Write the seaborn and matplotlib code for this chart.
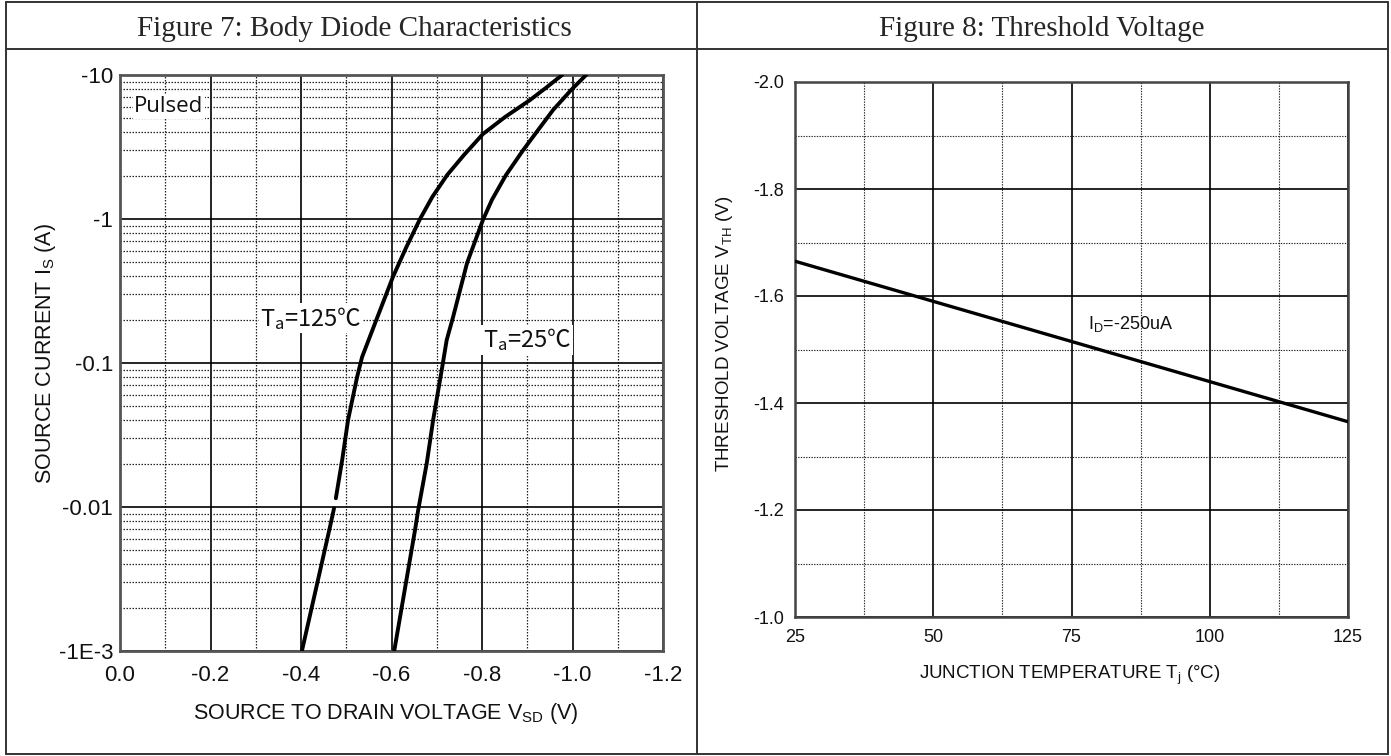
import matplotlib
matplotlib.use("Agg")
import matplotlib.pyplot as plt
import matplotlib.ticker as mticker
from matplotlib.lines import Line2D
import pandas as pd
import seaborn as sns

# Figure 7: body diode curves, |V_SD| (V) vs |I_S| (A)
# Ta=125C (drawn in two pieces, the original has a small break near 0.01 A)
vsd_125_low = [0.402, 0.464, 0.473]
is_125_low = [0.001, 0.00726, 0.0098]
vsd_125_high = [0.477, 0.491, 0.504, 0.524, 0.535, 0.568, 0.603, 0.632, 0.663, 0.690,
                0.723, 0.760, 0.802, 0.851, 0.906, 0.941, 0.977]
is_125_high = [0.0115, 0.0212, 0.0402, 0.080, 0.110, 0.205, 0.395, 0.63, 1.0, 1.42,
               2.02, 2.78, 3.89, 5.11, 6.7, 8.13, 10.0]
# Ta=25C
vsd_25 = [0.606, 0.652, 0.659, 0.678, 0.692, 0.711, 0.722, 0.736, 0.767, 0.802,
          0.822, 0.853, 0.891, 0.924, 0.957, 0.997, 1.030]
is_25 = [0.001, 0.00692, 0.00953, 0.0202, 0.0402, 0.0894, 0.1445, 0.208, 0.495, 0.984,
         1.36, 2.02, 3.01, 4.15, 5.71, 7.87, 10.0]
is_ticks = [1e-3, 1e-2, 1e-1, 1, 10]
is_ticklabels = ["-1E-3", "-0.01", "-0.1", "-1", "-10"]
vsd_ticks = [0.0, -0.2, -0.4, -0.6, -0.8, -1.0, -1.2]

# Figure 8: threshold voltage vs junction temperature
tj = [25, 125]
vth = [-1.665, -1.365]
tj_ticks = [25, 50, 75, 100, 125]
vth_ticks = [-2.0, -1.8, -1.6, -1.4, -1.2, -1.0]

sns.set_theme(style="white")
plt.rcParams["font.family"] = ["Liberation Sans", "DejaVu Sans"]
plt.rcParams["mathtext.default"] = "regular"
plt.rcParams["mathtext.fontset"] = "custom"
plt.rcParams["mathtext.rm"] = "Liberation Sans"

W, H = 1391, 756
fig = plt.figure(figsize=(W / 100, H / 100), dpi=100)


def ax_rect(x0, y0, x1, y1):
    return [x0 / W, 1 - y1 / H, (x1 - x0) / W, (y1 - y0) / H]


# table frame
for x0, y0, x1, y1 in [(6, 2, 1388, 2), (6, 754, 1388, 754), (6, 2, 6, 754),
                       (1388, 2, 1388, 754), (6, 49, 1388, 49), (697, 2, 697, 754)]:
    fig.add_artist(Line2D([x0 / W, x1 / W], [1 - y0 / H, 1 - y1 / H],
                          color="#333333", linewidth=1.4))
fig.text(354 / W, 1 - 29 / H, "Figure 7: Body Diode Characteristics",
         family="Liberation Serif", fontsize=21, ha="center", va="center")
fig.text(1042 / W, 1 - 29 / H, "Figure 8: Threshold Voltage",
         family="Liberation Serif", fontsize=21, ha="center", va="center")

# ---- Figure 7 ----
ax1 = fig.add_axes(ax_rect(120, 75, 663, 651))
df125 = pd.DataFrame({
    "v": [-v for v in vsd_125_low + vsd_125_high],
    "i": is_125_low + is_125_high,
    "seg": [0] * len(vsd_125_low) + [1] * len(vsd_125_high),
})
df25 = pd.DataFrame({"v": [-v for v in vsd_25], "i": is_25, "seg": 0})
for df in (df125, df25):
    sns.lineplot(data=df, x="v", y="i", units="seg", ax=ax1, color="black",
                 linewidth=2.8, sort=False, estimator=None, zorder=5)
ax1.set_yscale("log")
ax1.set_ylim(1e-3, 10)
ax1.set_xlim(0, -1.2)
ax1.set_xticks(vsd_ticks)
ax1.set_xticklabels([f"{v:.1f}" for v in vsd_ticks])
ax1.xaxis.set_minor_locator(mticker.FixedLocator([-0.1, -0.3, -0.5, -0.7, -0.9, -1.1]))
ax1.set_yticks(is_ticks)
ax1.set_yticklabels(is_ticklabels)
ax1.yaxis.set_minor_locator(mticker.LogLocator(base=10, subs=range(2, 10)))
ax1.yaxis.set_minor_formatter(mticker.NullFormatter())
ax1.grid(which="major", color="black", linewidth=1.2, linestyle="-")
ax1.grid(which="minor", color="#222222", linewidth=0.9, linestyle=(0, (1.2, 1.2)))
ax1.set_axisbelow(True)
ax1.tick_params(which="both", length=0, labelsize=16, colors="#111111")
ax1.tick_params(axis="x", pad=10)
ax1.tick_params(axis="y", pad=5)
for s in ax1.spines.values():
    s.set_color("#555555")
    s.set_linewidth(2)
ax1.set_xlabel("SOURCE TO DRAIN VOLTAGE V$_{SD}$ (V)", fontsize=15.5, color="#111111")
ax1.set_ylabel("SOURCE CURRENT I$_{S}$ (A)", fontsize=15.5, color="#111111")
ax1.xaxis.label.set_verticalalignment("center")
ax1.yaxis.label.set_verticalalignment("center")
ax1.xaxis.set_label_coords(0.49, -0.108)
ax1.yaxis.set_label_coords(-0.137, 0.517)
bbox = dict(facecolor="white", edgecolor="none", pad=1)
ax1.text(0.026, 0.945, "Pulsed", transform=ax1.transAxes, fontsize=16,
         family=["Open Sans", "DejaVu Sans"], color="#111111", va="center",
         bbox=bbox, zorder=6)
ax1.text(-0.310, 0.205, "T$_a$=125℃", fontsize=17, family=["Noto Sans CJK SC", "DejaVu Sans"],
         color="#111111", va="center", bbox=bbox, zorder=6)
ax1.text(-0.802, 0.1445, "T$_a$=25℃", fontsize=17, family=["Noto Sans CJK SC", "DejaVu Sans"],
         color="#111111", va="center", bbox=bbox, zorder=6)

# ---- Figure 8 ----
ax2 = fig.add_axes(ax_rect(795, 82, 1348, 617))
sns.lineplot(x=tj, y=vth, ax=ax2, color="black", linewidth=2.4, zorder=5)
ax2.set_xlim(25, 125)
ax2.set_ylim(-1.0, -2.0)
ax2.set_xticks(tj_ticks)
ax2.set_xticks([37.5, 62.5, 87.5, 112.5], minor=True)
ax2.set_yticks(vth_ticks)
ax2.set_yticklabels([f"{v:.1f}" for v in vth_ticks])
ax2.set_yticks([-1.9, -1.7, -1.5, -1.3, -1.1], minor=True)
ax2.grid(which="major", color="black", linewidth=1.2, linestyle="-")
ax2.grid(which="minor", color="#222222", linewidth=0.8, linestyle=(0, (1.2, 1.2)))
ax2.set_axisbelow(True)
ax2.tick_params(which="both", length=0, labelsize=13, colors="#111111")
ax2.tick_params(axis="x", pad=9)
ax2.tick_params(axis="y", pad=8)
for s in ax2.spines.values():
    s.set_color("#444444")
    s.set_linewidth(1.8)
ax2.set_xlabel("JUNCTION TEMPERATURE T$_j$ (°C)", fontsize=13.5, color="#111111")
ax2.set_ylabel("THRESHOLD VOLTAGE V$_{TH}$ (V)", fontsize=13.5, color="#111111")
ax2.xaxis.label.set_verticalalignment("center")
ax2.yaxis.label.set_verticalalignment("center")
ax2.xaxis.set_label_coords(0.497, -0.11)
ax2.yaxis.set_label_coords(-0.127, 0.53)
ax2.text(78, -1.548, "I$_D$=-250uA", fontsize=13, color="#111111", va="center")

fig.savefig("out.png", dpi=100)
